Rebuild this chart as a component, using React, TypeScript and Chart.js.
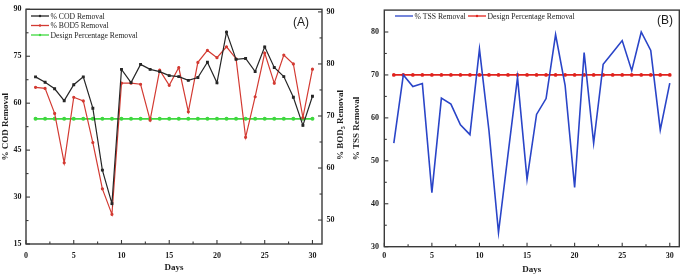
import React, { useEffect, useRef } from 'react';
import { Chart, registerables } from 'chart.js';
Chart.register(...registerables);

const DAYS = [1, 2, 3, 4, 5, 6, 7, 8, 9, 10, 11, 12, 13, 14, 15, 16, 17, 18, 19, 20, 21, 22, 23, 24, 25, 26, 27, 28, 29, 30];
const COD_REMOVAL = [68.4, 66.7, 64.6, 60.8, 65.9, 68.4, 58.4, 38.6, 27.9, 70.8, 66.6, 72.4, 70.8, 70.1, 68.8, 68.5, 67.3, 68.2, 73.1, 66.5, 82.7, 74.0, 74.3, 70.1, 78.0, 71.4, 68.5, 61.9, 52.9, 62.2];
const BOD5_REMOVAL = [75.5, 75.3, 70.5, 61.0, 73.6, 72.9, 64.9, 56.0, 51.1, 76.3, 76.3, 76.1, 69.2, 78.8, 75.9, 79.3, 70.8, 80.3, 82.6, 81.2, 83.3, 81.0, 65.9, 73.7, 82.1, 76.3, 81.7, 80.0, 69.7, 79.0];
const DESIGN_A = [55, 55, 55, 55, 55, 55, 55, 55, 55, 55, 55, 55, 55, 55, 55, 55, 55, 55, 55, 55, 55, 55, 55, 55, 55, 55, 55, 55, 55, 55];
const TSS_REMOVAL = [54.1, 70.0, 67.3, 68.0, 42.6, 64.6, 63.2, 58.4, 56.1, 76.0, 57.0, 33.3, 51.5, 69.4, 45.7, 60.8, 64.5, 79.4, 67.6, 43.8, 75.2, 54.1, 72.5, 75.2, 78.0, 71.0, 80.0, 75.7, 57.2, 68.1];
const DESIGN_B = [70, 70, 70, 70, 70, 70, 70, 70, 70, 70, 70, 70, 70, 70, 70, 70, 70, 70, 70, 70, 70, 70, 70, 70, 70, 70, 70, 70, 70, 70];

const DAY_TICKS = [0, 5, 10, 15, 20, 25, 30];
const COD_TICKS = [15, 30, 45, 60, 75, 90];
const BOD_TICKS = [50, 60, 70, 80, 90];
const TSS_TICKS = [30, 40, 50, 60, 70, 80];

const SERIF = '"Liberation Serif", "Times New Roman", serif';
const SANS = '"Liberation Sans", Arial, sans-serif';
const AXIS = '#3a3a3a';
const TEXT = '#1c1c1c';

const pts = (ys: number[]) => DAYS.map((d, i) => ({ x: d, y: ys[i] }));
const mids = (arr: number[]) => arr.slice(1).map((v, i) => (v + arr[i]) / 2);
const setTicks = (vals: number[]) => (s: any) => { s.ticks = vals.map((v) => ({ value: v })); };

const tickFont = { family: SERIF, size: 8, weight: 'bold' as const };
const titleFont = { family: SERIF, size: 9, weight: 'bold' as const };

const decor = {
  id: 'decor',
  afterDraw(chart: any, _args: any, opts: any) {
    const ctx = chart.ctx;
    const a = chart.chartArea;
    ctx.save();
    ctx.strokeStyle = AXIS;
    ctx.lineWidth = 1.4;
    ctx.strokeRect(a.left, a.top, a.right - a.left, a.bottom - a.top);
    ctx.lineWidth = 1.1;
    for (const ax of opts.axes) {
      const s = chart.scales[ax.id];
      const draw = (v: number, len: number) => {
        const p = s.getPixelForValue(v);
        ctx.beginPath();
        if (ax.side === 'bottom') { ctx.moveTo(p, a.bottom); ctx.lineTo(p, a.bottom - len); }
        else if (ax.side === 'left') { ctx.moveTo(a.left, p); ctx.lineTo(a.left + len, p); }
        else { ctx.moveTo(a.right, p); ctx.lineTo(a.right - len, p); }
        ctx.stroke();
      };
      ax.major.forEach((v: number) => draw(v, 4));
      mids(ax.major).forEach((v: number) => draw(v, 2.5));
    }
    // legend
    ctx.font = `7.7px ${SERIF}`;
    ctx.textBaseline = 'middle';
    ctx.textAlign = 'left';
    opts.legend.forEach((it: any, i: number) => {
      const ds = chart.data.datasets[i];
      ctx.strokeStyle = ds.borderColor;
      ctx.lineWidth = 1.3;
      ctx.beginPath();
      ctx.moveTo(it.x, it.y);
      ctx.lineTo(it.x + 18, it.y);
      ctx.stroke();
      ctx.fillStyle = ds.borderColor;
      if (ds.legendMarker) {
        ctx.beginPath();
        ctx.arc(it.x + 9, it.y, 1.2, 0, Math.PI * 2);
        ctx.fill();
      }
      ctx.fillStyle = TEXT;
      ctx.fillText(ds.label, it.x + 19.5, it.y + 0.5);
    });
    // tag
    ctx.font = `12px ${SANS}`;
    ctx.textAlign = 'center';
    ctx.fillStyle = TEXT;
    ctx.fillText(opts.tag.text, opts.tag.x, opts.tag.y);
    // rotated right title with subscript
    if (opts.rightTitle) {
      const rt = opts.rightTitle;
      ctx.translate(rt.x, rt.y);
      ctx.rotate(-Math.PI / 2);
      ctx.textAlign = 'left';
      const big = `bold 9px ${SERIF}`;
      const small = `bold 6px ${SERIF}`;
      ctx.font = big; const w1 = ctx.measureText(rt.pre).width; const w3 = ctx.measureText(rt.post).width;
      ctx.font = small; const w2 = ctx.measureText(rt.sub).width;
      let x = -(w1 + w2 + w3) / 2;
      ctx.font = big; ctx.fillText(rt.pre, x, 0); x += w1;
      ctx.font = small; ctx.fillText(rt.sub, x, 2.5); x += w2;
      ctx.font = big; ctx.fillText(rt.post, x, 0);
    }
    ctx.restore();
  },
};

function ChartA() {
  const ref = useRef<HTMLCanvasElement>(null);
  useEffect(() => {
    const chart = new Chart(ref.current!, {
      type: 'line',
      data: {
        datasets: [
          { label: '% COD Removal', data: pts(COD_REMOVAL), yAxisID: 'y', borderColor: '#262626', backgroundColor: '#262626', borderWidth: 1.2, pointStyle: 'rect', pointRadius: 1.2, legendMarker: true } as any,
          { label: '% BOD5 Removal', data: pts(BOD5_REMOVAL), yAxisID: 'y1', borderColor: '#d33a32', backgroundColor: '#d33a32', borderWidth: 1.2, pointRadius: 1.0, legendMarker: true } as any,
          { label: 'Design Percentage Removal', data: pts(DESIGN_A), yAxisID: 'y', borderColor: '#3fd83f', backgroundColor: '#3fd83f', borderWidth: 1.8, pointRadius: 1.1, legendMarker: true } as any,
        ],
      },
      options: {
        responsive: false,
        animation: false,
        layout: { padding: { top: 7, left: 0, right: 0, bottom: 0 } },
        elements: { line: { tension: 0 } },
        scales: {
          x: {
            type: 'linear', min: 0, max: 31,
            afterBuildTicks: setTicks(DAY_TICKS),
            afterFit: (s: any) => { s.height = 36; },
            grid: { display: false, drawTicks: false }, border: { display: false },
            ticks: { font: tickFont, color: TEXT, padding: 7, maxRotation: 0, autoSkip: false },
            title: { display: true, text: 'Days', font: titleFont, color: TEXT, padding: { top: 0, bottom: 6.5 } },
          },
          y: {
            position: 'left', min: 15, max: 90,
            afterBuildTicks: setTicks(COD_TICKS),
            afterFit: (s: any) => { s.width = 26; },
            grid: { display: false, drawTicks: false }, border: { display: false },
            ticks: { font: tickFont, color: TEXT, padding: 4.5, autoSkip: false },
            title: { display: true, text: '% COD Removal', font: titleFont, color: TEXT, padding: { top: 0.6, bottom: 0 } },
          },
          y1: {
            position: 'right', min: 45.4, max: 90.5,
            afterBuildTicks: setTicks(BOD_TICKS),
            afterFit: (s: any) => { s.width = 28; },
            grid: { display: false, drawTicks: false }, border: { display: false },
            ticks: { font: tickFont, color: TEXT, padding: 4.5, autoSkip: false },
          },
        },
        plugins: {
          legend: { display: false },
          tooltip: { enabled: false },
          decor: {
            axes: [
              { id: 'x', side: 'bottom', major: DAY_TICKS },
              { id: 'y', side: 'left', major: COD_TICKS },
              { id: 'y1', side: 'right', major: BOD_TICKS },
            ],
            legend: [{ x: 31, y: 16 }, { x: 31, y: 25.5 }, { x: 31, y: 35 }],
            tag: { text: '(A)', x: 301, y: 22.5 },
            rightTitle: { pre: '% BOD', sub: '5', post: ' Removal', x: 341, y: 125 },
          },
        } as any,
      },
      plugins: [decor],
    } as any);
    return () => chart.destroy();
  }, []);
  return <canvas ref={ref} width={350} height={280} style={{ position: 'absolute', left: 0, top: 0 }} />;
}

function ChartB() {
  const ref = useRef<HTMLCanvasElement>(null);
  useEffect(() => {
    const chart = new Chart(ref.current!, {
      type: 'line',
      data: {
        datasets: [
          { label: '% TSS Removal', data: pts(TSS_REMOVAL), borderColor: '#2a45c8', backgroundColor: '#2a45c8', borderWidth: 1.6, pointRadius: 0, legendMarker: false } as any,
          { label: 'Design Percentage Removal', data: pts(DESIGN_B), borderColor: '#e0221d', backgroundColor: '#e0221d', borderWidth: 1.7, pointRadius: 1.0, legendMarker: true } as any,
        ],
      },
      options: {
        responsive: false,
        animation: false,
        layout: { padding: { top: 7, left: 0, right: 2.3, bottom: 0 } },
        elements: { line: { tension: 0 } },
        scales: {
          x: {
            type: 'linear', min: 0, max: 31,
            afterBuildTicks: setTicks(DAY_TICKS),
            afterFit: (s: any) => { s.height = 33.3; },
            grid: { display: false, drawTicks: false }, border: { display: false },
            ticks: { font: tickFont, color: TEXT, padding: 4.5, maxRotation: 0, autoSkip: false },
            title: { display: true, text: 'Days', font: titleFont, color: TEXT, padding: { top: 0, bottom: 4.6 } },
          },
          y: {
            position: 'left', min: 30, max: 85.1,
            afterBuildTicks: setTicks(TSS_TICKS),
            afterFit: (s: any) => { s.width = 39.3; },
            grid: { display: false, drawTicks: false }, border: { display: false },
            ticks: { font: tickFont, color: TEXT, padding: 5.3, autoSkip: false },
            title: { display: true, text: '% TSS Removal', font: titleFont, color: TEXT, padding: { top: 6.6, bottom: 0 } },
          },
        },
        plugins: {
          legend: { display: false },
          tooltip: { enabled: false },
          decor: {
            axes: [
              { id: 'x', side: 'bottom', major: DAY_TICKS },
              { id: 'y', side: 'left', major: TSS_TICKS },
            ],
            legend: [{ x: 50, y: 16 }, { x: 123, y: 16 }],
            tag: { text: '(B)', x: 320, y: 20.5 },
          },
        } as any,
      },
      plugins: [decor],
    } as any);
    return () => chart.destroy();
  }, []);
  return <canvas ref={ref} width={340} height={280} style={{ position: 'absolute', left: 345, top: 0 }} />;
}

export default function App() {
  return (
    <div style={{ position: 'absolute', left: 0, top: 0, width: 685, height: 280, background: '#fff', overflow: 'hidden' }}>
      <ChartA />
      <ChartB />
    </div>
  );
}
